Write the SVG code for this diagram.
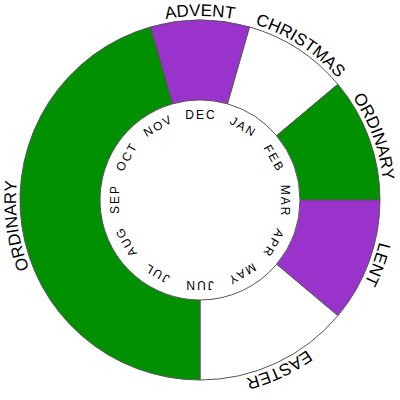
<svg xmlns="http://www.w3.org/2000/svg" xmlns:xlink="http://www.w3.org/1999/xlink" width="400" height="400" viewBox="0 0 400 400">
<style>
.seg{stroke:#555;stroke-width:1}
.green{fill:#009000}
.purple{fill:#9933cc}
.white{fill:#ffffff}
.season{font-family:"Liberation Sans",Arial,sans-serif;font-size:17px;fill:#000}
.month{font-family:"Liberation Sans",Arial,sans-serif;font-size:12px;letter-spacing:2px;fill:#000;text-anchor:middle}
</style>
<defs>
<path id="lab" d="M 200 384 A 184 184 0 1 1 200 16 A 184 184 0 1 1 200 384"/>
</defs>
<rect width="400" height="400" fill="#fff"/>
<g id="advent"><path class="seg purple" d="M 150.385 26.973 A 180 180 0 0 1 249.615 26.973 L 227.564 103.874 A 100 100 0 0 0 172.436 103.874 Z"/></g>
<g id="christmas"><path class="seg white" d="M 249.615 26.973 A 180 180 0 0 1 337.888 84.298 L 276.604 135.721 A 100 100 0 0 0 227.564 103.874 Z"/></g>
<g id="ordinary1"><path class="seg green" d="M 337.888 84.298 A 180 180 0 0 1 380 200 L 300 200 A 100 100 0 0 0 276.604 135.721 Z"/></g>
<g id="lent"><path class="seg purple" d="M 380 200 A 180 180 0 0 1 337.888 315.702 L 276.604 264.279 A 100 100 0 0 0 300 200 Z"/></g>
<g id="easter"><path class="seg white" d="M 337.888 315.702 A 180 180 0 0 1 200 380 L 200 300 A 100 100 0 0 0 276.604 264.279 Z"/></g>
<g id="ordinary2"><path class="seg green" d="M 200 380 A 180 180 0 0 1 150.385 26.973 L 172.436 103.874 A 100 100 0 0 0 200 300 Z"/></g>
<g id="labels" class="season">
<text><textPath xlink:href="#lab" href="#lab" startOffset="50%" text-anchor="middle">ADVENT</textPath></text>
<text><textPath xlink:href="#lab" href="#lab" startOffset="59.17%" text-anchor="middle">CHRISTMAS</textPath></text>
<text><textPath xlink:href="#lab" href="#lab" startOffset="69.44%" text-anchor="middle">ORDINARY</textPath></text>
<text><textPath xlink:href="#lab" href="#lab" startOffset="80.56%" text-anchor="middle">LENT</textPath></text>
<text><textPath xlink:href="#lab" href="#lab" startOffset="93.06%" text-anchor="middle">EASTER</textPath></text>
<text><textPath xlink:href="#lab" href="#lab" startOffset="22.78%" text-anchor="middle">ORDINARY</textPath></text>
</g>
<g id="months" class="month">
<text x="201" y="119">DEC</text>
<text x="201" y="119" transform="rotate(30 200 200)">JAN</text>
<text x="201" y="119" transform="rotate(60 200 200)">FEB</text>
<text x="201" y="119" transform="rotate(90 200 200)">MAR</text>
<text x="201" y="119" transform="rotate(120 200 200)">APR</text>
<text x="201" y="119" transform="rotate(150 200 200)">MAY</text>
<text x="201" y="119" transform="rotate(180 200 200)">JUN</text>
<text x="201" y="119" transform="rotate(210 200 200)">JUL</text>
<text x="201" y="119" transform="rotate(240 200 200)">AUG</text>
<text x="201" y="119" transform="rotate(270 200 200)">SEP</text>
<text x="201" y="119" transform="rotate(300 200 200)">OCT</text>
<text x="201" y="119" transform="rotate(330 200 200)">NOV</text>
</g>
</svg>
